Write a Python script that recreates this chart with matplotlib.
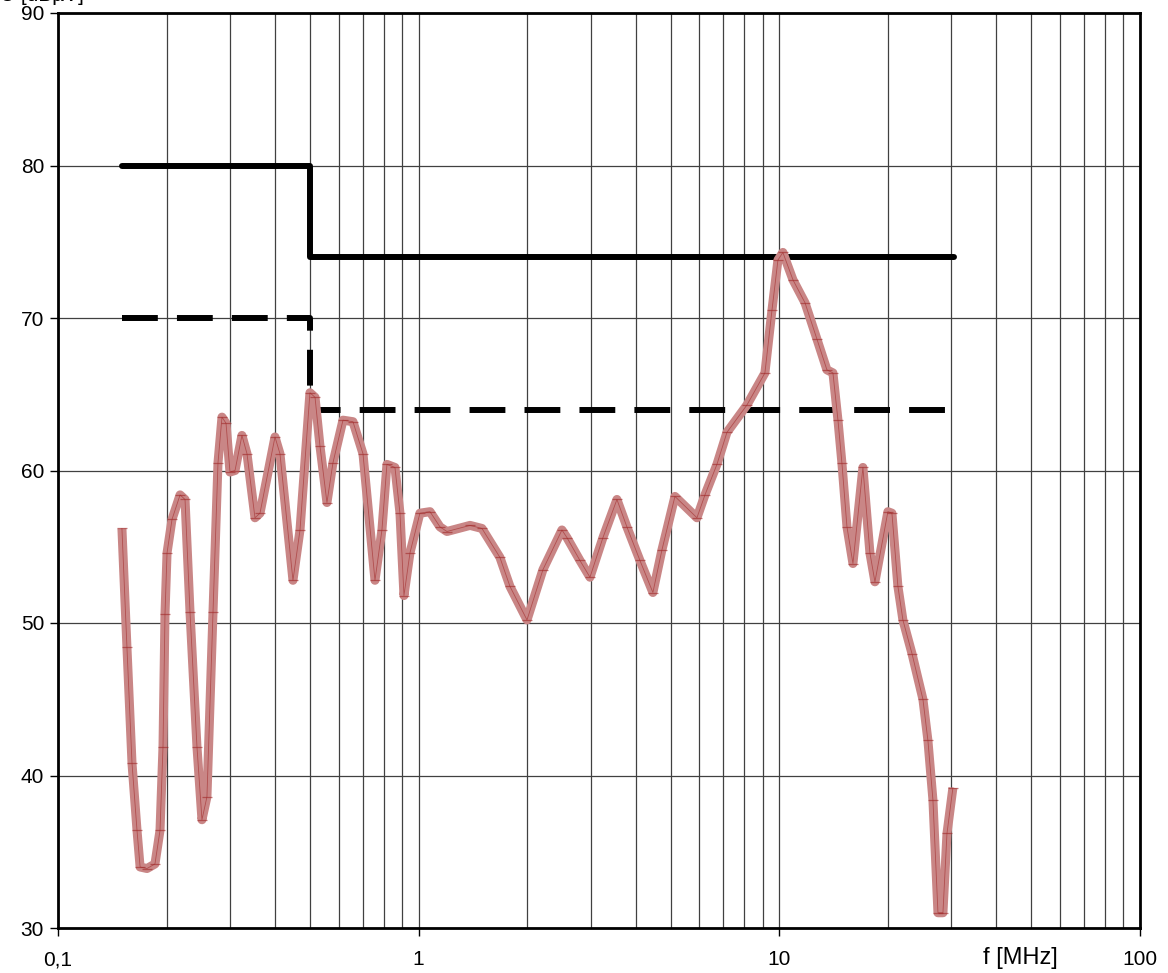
import matplotlib
matplotlib.use("Agg")
import matplotlib.pyplot as plt
from matplotlib.ticker import FixedLocator, NullFormatter

plt.rcParams["font.family"] = ["Liberation Sans", "DejaVu Sans"]

# measured level (dBuV) vs frequency (MHz)
freq = [0.1504, 0.1553, 0.1604, 0.1656, 0.1689, 0.1765, 0.1857, 0.1918, 0.1955,
        0.1980, 0.2006, 0.2071, 0.2180, 0.2250, 0.2323, 0.2428, 0.2507, 0.2588,
        0.2690, 0.2777, 0.2849, 0.2923, 0.2998, 0.3096, 0.3236, 0.3342, 0.3517,
        0.3631, 0.3996, 0.4125, 0.4482, 0.4688, 0.4995, 0.5160, 0.5326, 0.5568,
        0.5785, 0.6168, 0.6575, 0.7008, 0.7566, 0.7910, 0.8166, 0.8595, 0.8875,
        0.9104, 0.9460, 1.008, 1.075, 1.146, 1.198, 1.388, 1.498, 1.680, 1.791,
        1.997, 2.211, 2.496, 2.577, 2.800, 2.985, 3.243, 3.546, 3.779, 4.107,
        4.461, 4.727, 5.135, 5.910, 6.220, 6.714, 7.157, 8.134, 9.121,
        9.539, 9.911, 10.23, 10.91, 11.78, 12.72, 13.55, 14.08, 14.54, 14.91,
        15.40, 16.00, 17.05, 17.83, 18.41, 20.00, 20.52, 21.32, 22.01, 23.32,
        25.01, 25.82, 26.66, 27.53, 28.42, 29.16, 30.29]
level = [56.2, 48.4, 40.8, 36.4, 34.0, 33.9, 34.2, 36.4, 41.9,
         50.6, 54.6, 56.8, 58.4, 58.1, 50.7, 41.9, 37.1, 38.6,
         50.7, 60.5, 63.5, 63.1, 59.9, 60.0, 62.3, 61.1, 56.9,
         57.2, 62.2, 61.1, 52.8, 56.1, 65.1, 64.8, 61.6, 57.9,
         60.5, 63.3, 63.2, 61.1, 52.8, 56.1, 60.4, 60.2, 57.2,
         51.8, 54.6, 57.2, 57.3, 56.3, 56.0, 56.4, 56.2, 54.3, 52.4,
         50.2, 53.5, 56.1, 55.6, 54.1, 53.0, 55.6, 58.1, 56.3, 54.1,
         52.0, 54.8, 58.3, 56.9, 58.4, 60.4, 62.5, 64.3, 66.4,
         70.5, 73.8, 74.3, 72.5, 71.0, 68.6, 66.6, 66.4, 63.3, 60.5,
         56.3, 53.9, 60.2, 54.6, 52.7, 57.3, 57.2, 52.4, 50.2, 48.0,
         45.0, 42.3, 38.4, 31.0, 31.0, 36.2, 39.2]

# limit lines
qp_freq = [0.15, 0.5, 0.5, 30.5]
qp_limit = [80, 80, 74, 74]
av_freq = [0.15, 0.5, 0.5, 30.5]
av_limit = [70, 70, 64, 64]

x_ticks = [0.1, 1, 10, 100]
x_labels = ["0,1", "1", "10", "100"]
y_ticks = [30, 40, 50, 60, 70, 80, 90]

fig = plt.figure(figsize=(11.68, 9.73), dpi=100)
ax = fig.add_axes([58 / 1168, 45 / 973, 1082 / 1168, 915 / 973])

ax.set_xscale("log")
ax.set_xlim(0.1, 100)
ax.set_ylim(30, 90)

minor = [m * 10.0 ** e for e in (-1, 0, 1) for m in range(2, 10)]
ax.xaxis.set_major_locator(FixedLocator(x_ticks))
ax.xaxis.set_minor_locator(FixedLocator(minor))
ax.xaxis.set_minor_formatter(NullFormatter())
ax.set_xticklabels(x_labels)
ax.set_yticks(y_ticks)

ax.grid(True, which="both", axis="x", color="#404040", lw=0.9)
ax.grid(True, which="major", axis="y", color="#404040", lw=0.9)
ax.set_axisbelow(True)

ax.plot(qp_freq, qp_limit, color="black", lw=4.3, solid_capstyle="round",
        solid_joinstyle="round", zorder=3)
ax.plot(av_freq, av_limit, color="black", lw=4.3, dashes=(6, 3.2),
        dash_capstyle="butt", zorder=3)

ax.plot(freq, level, color="#c98686", lw=6.5, solid_capstyle="butt",
        solid_joinstyle="round", zorder=4)
ax.plot(freq, level, color="#a02828", lw=0.6, alpha=0.6, marker="_",
        ms=7, mew=0.9, zorder=5)

for s in ax.spines.values():
    s.set_linewidth(2.0)
    s.set_color("black")

ax.tick_params(axis="y", which="major", length=6, width=1, labelsize=15, pad=4)
ax.tick_params(axis="x", which="major", length=6, width=1, labelsize=15, pad=10)
ax.tick_params(axis="x", which="minor", length=0)

fig.text(1020 / 1168, 1 - 958 / 973, "f [MHz]", fontsize=17, ha="center", va="center")
fig.text(0.0, 1 - 1 / 973, "U [dBµV]", fontsize=15, ha="left", va="baseline")

fig.savefig("out.png", dpi=100)
